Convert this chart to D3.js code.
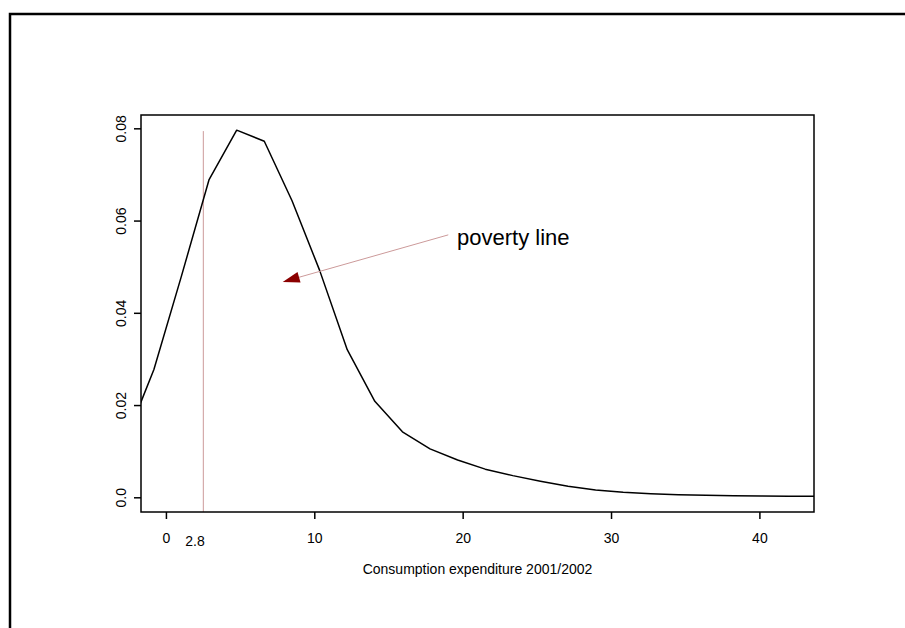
<!DOCTYPE html>
<html>
<head>
<meta charset="utf-8">
<script src="https://cdn.jsdelivr.net/npm/d3@7"></script>
<style>
  body { margin: 0; background: #fff; }
  text { font-family: "Liberation Sans", Arial, sans-serif; fill: #000; }
</style>
</head>
<body>
<div id="chart"></div>
<script>
// density estimate of consumption expenditure
var densityX = [-2.66, -0.81, 1.05, 2.90, 4.77, 6.63, 8.50, 10.36, 12.22, 14.08, 15.94, 17.80,
                19.66, 21.52, 23.38, 25.24, 27.10, 28.96, 30.82, 32.68, 34.54, 36.40, 38.26,
                40.12, 41.98, 43.84];
var densityY = [0.0128, 0.0277, 0.0480, 0.0688, 0.0796, 0.0772, 0.0643, 0.0492, 0.0320, 0.0208,
                0.0142, 0.0105, 0.0081, 0.0061, 0.0047, 0.0035, 0.0024, 0.0016, 0.0011, 0.00078,
                0.00055, 0.00042, 0.00033, 0.00027, 0.00023, 0.0002];
var xTicks = [0, 10, 20, 30, 40];
var yTicks = [0, 0.02, 0.04, 0.06, 0.08];
var yTickLabels = ["0.0", "0.02", "0.04", "0.06", "0.08"];
var xRange = [0, 42], yRange = [0, 0.0797];

// poverty line annotation
var povertyLine = 2.52, povertyTop = 0.0794;
var povertyLabel = "2.8", povertyLabelAt = 1.96;
var arrowFrom = [19.03, 0.0569], arrowTo = [7.87, 0.0467];
var noteText = "poverty line", noteAt = [19.62, 0.0547];
var xTitle = "Consumption expenditure 2001/2002";

var W = 905, H = 628;
var plot = {left: 141, top: 115, right: 814, bottom: 512};

// R style 4% padding
function pad(r) { var d = (r[1] - r[0]) * 0.04; return [r[0] - d, r[1] + d]; }

var x = d3.scaleLinear().domain(pad(xRange)).range([plot.left, plot.right]);
var y = d3.scaleLinear().domain(pad(yRange)).range([plot.bottom, plot.top]);

var svg = d3.select("#chart").append("svg")
    .attr("width", W).attr("height", H);

//outer frame, runs off the window at right and bottom
svg.append("rect")
    .attr("x", 10).attr("y", 14)
    .attr("width", 1000).attr("height", 1000)
    .attr("fill", "none").attr("stroke", "#000").attr("stroke-width", 2.5);

svg.append("clipPath").attr("id", "clip")
  .append("rect")
    .attr("x", plot.left).attr("y", plot.top)
    .attr("width", plot.right - plot.left).attr("height", plot.bottom - plot.top);

//vertical poverty line
svg.append("line")
    .attr("x1", x(povertyLine)).attr("x2", x(povertyLine))
    .attr("y1", plot.bottom).attr("y2", y(povertyTop))
    .attr("stroke", "#cc9a9a").attr("stroke-width", 1);

//density curve
var line = d3.line().x(function(d, i){ return x(densityX[i]); }).y(function(d){ return y(d); });
svg.append("path")
    .datum(densityY)
    .attr("clip-path", "url(#clip)")
    .attr("d", line)
    .attr("fill", "none").attr("stroke", "#000").attr("stroke-width", 1.5)
    .attr("stroke-linejoin", "round");

//plot box
svg.append("rect")
    .attr("x", plot.left).attr("y", plot.top)
    .attr("width", plot.right - plot.left).attr("height", plot.bottom - plot.top)
    .attr("fill", "none").attr("stroke", "#000").attr("stroke-width", 1.5);

//x axis
var xAxis = d3.axisBottom(x).tickValues(xTicks).tickSize(7).tickPadding(14).tickSizeOuter(0);
var gx = svg.append("g").attr("transform", "translate(0," + plot.bottom + ")").call(xAxis);
gx.select(".domain").remove();
gx.selectAll(".tick line").attr("stroke-width", 1.5);
gx.selectAll("text").attr("font-size", 14).attr("font-family", "Liberation Sans, Arial, sans-serif");

svg.append("text")
    .attr("x", x(povertyLabelAt)).attr("y", 546)
    .attr("text-anchor", "middle").attr("font-size", 14)
    .text(povertyLabel);

//y axis
var yAxis = d3.axisLeft(y).tickValues(yTicks).tickSize(7).tickFormat(function(d, i){ return yTickLabels[i]; });
var gy = svg.append("g").attr("transform", "translate(" + plot.left + ",0)").call(yAxis);
gy.select(".domain").remove();
gy.selectAll(".tick line").attr("stroke-width", 1.5);
gy.selectAll("text")
    .attr("x", 0).attr("dy", null).attr("y", 0)
    .attr("transform", "translate(-15,0) rotate(-90)")
    .attr("text-anchor", "middle")
    .attr("font-size", 14).attr("font-family", "Liberation Sans, Arial, sans-serif");

//x title
svg.append("text")
    .attr("x", (plot.left + plot.right) / 2).attr("y", 574)
    .attr("text-anchor", "middle").attr("font-size", 14)
    .text(xTitle);

//arrow
var ax0 = x(arrowFrom[0]), ay0 = y(arrowFrom[1]), ax1 = x(arrowTo[0]), ay1 = y(arrowTo[1]);
var len = Math.hypot(ax0 - ax1, ay0 - ay1), ux = (ax0 - ax1) / len, uy = (ay0 - ay1) / len;
var headL = 17, headW = 5.5;
svg.append("line")
    .attr("x1", ax0).attr("y1", ay0)
    .attr("x2", ax1 + ux * headL).attr("y2", ay1 + uy * headL)
    .attr("stroke", "#cc9a9a").attr("stroke-width", 1);
svg.append("path")
    .attr("d", "M" + ax1 + "," + ay1 +
        "L" + (ax1 + ux * headL + uy * headW) + "," + (ay1 + uy * headL - ux * headW) +
        "L" + (ax1 + ux * headL - uy * headW) + "," + (ay1 + uy * headL + ux * headW) + "Z")
    .attr("fill", "#8b0000");

svg.append("text")
    .attr("x", x(noteAt[0])).attr("y", y(noteAt[1]))
    .attr("font-size", 22)
    .text(noteText);
</script>
</body>
</html>
